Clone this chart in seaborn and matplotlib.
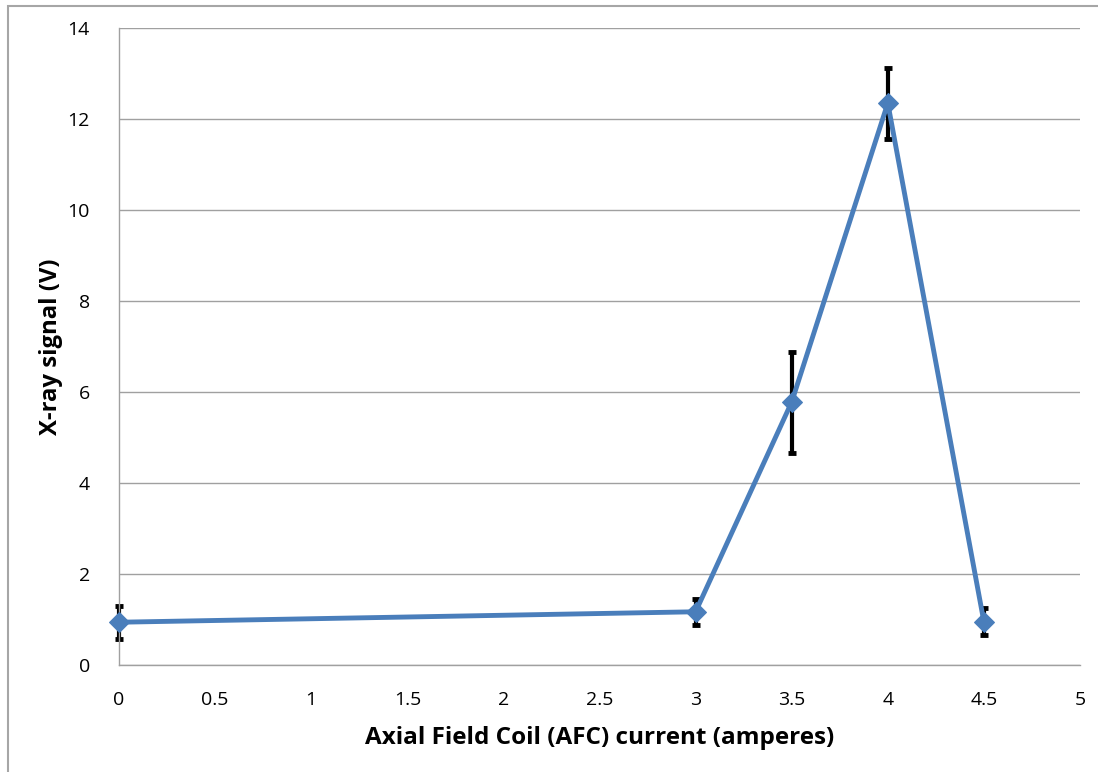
import matplotlib
matplotlib.use("Agg")
import matplotlib.pyplot as plt
import seaborn as sns
import pandas as pd
from matplotlib.patches import Rectangle

# AFC current (A) vs X-ray signal (V)
current = [0, 3, 3.5, 4, 4.5]
signal = [0.94, 1.17, 5.78, 12.35, 0.95]
err = [0.36, 0.28, 1.11, 0.78, 0.30]

x_ticks = [0, 0.5, 1, 1.5, 2, 2.5, 3, 3.5, 4, 4.5, 5]
x_tick_labels = ["0", "0.5", "1", "1.5", "2", "2.5", "3", "3.5", "4", "4.5", "5"]
y_ticks = [0, 2, 4, 6, 8, 10, 12, 14]

sns.set_style("white")
plt.rcParams["font.family"] = ["Open Sans", "DejaVu Sans"]
plt.rcParams["text.color"] = "black"
plt.rcParams["axes.labelcolor"] = "black"

df = pd.DataFrame({"current": current, "signal": signal})

fig = plt.figure(figsize=(10.98, 7.72), dpi=100)
ax = fig.add_axes([0.1084, 0.1386, 0.8752, 0.8251])

# outer chart frame
fig.patches.append(Rectangle((0.007, -0.05), 1.2, 1.042, transform=fig.transFigure,
                             fill=False, edgecolor="#a6a6a6", linewidth=1.5, zorder=0))

ax.errorbar(current, signal, yerr=err, fmt="none", ecolor="black",
            elinewidth=3, capsize=2.8, capthick=3.5, zorder=2, clip_on=False)
sns.lineplot(data=df, x="current", y="signal", ax=ax, color="#4a7ebb",
             linewidth=3.5, marker="D", markersize=10, markeredgecolor="#4a7ebb",
             zorder=3, clip_on=False)

ax.set_xlim(0, 5)
ax.set_ylim(0, 14)
ax.set_xticks(x_ticks)
ax.set_xticklabels(x_tick_labels)
ax.set_yticks(y_ticks)
ax.yaxis.grid(True, color="#a0a0a0", linewidth=1)
ax.xaxis.grid(False)
ax.set_axisbelow(True)

for side in ["top", "right"]:
    ax.spines[side].set_visible(False)
for side in ["left", "bottom"]:
    ax.spines[side].set_color("#a0a0a0")
    ax.spines[side].set_linewidth(1)

ax.tick_params(axis="both", labelsize=14, length=0, colors="black")
ax.tick_params(axis="x", pad=19)
ax.tick_params(axis="y", pad=21)
ax.set_xlabel("Axial Field Coil (AFC) current (amperes)", fontsize=17.5,
              fontweight="bold", labelpad=12)
ax.set_ylabel("X-ray signal (V)", fontsize=17.2, fontweight="bold", labelpad=3)

fig.savefig("out.png", dpi=100)
